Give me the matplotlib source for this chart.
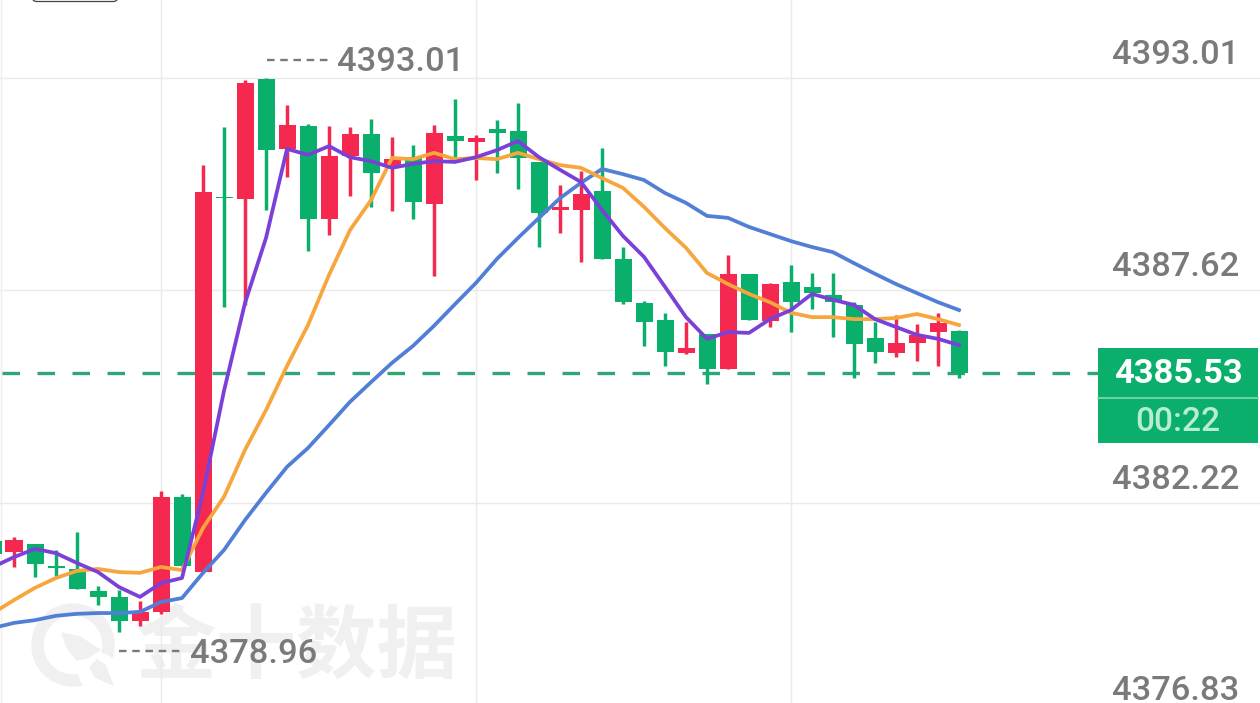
import matplotlib
matplotlib.use("Agg")
import matplotlib.pyplot as plt
from matplotlib.patches import Wedge, Polygon, Rectangle, FancyBboxPatch, Circle
from matplotlib.transforms import IdentityTransform

# index of each candle starts at -1 (partly off the left edge)
body_top = [4381.26,4381.28,4381.18,4380.62,4380.55,4379.99,4379.84,4379.46,4382.38,4382.38,4390.12,4389.99,4392.88,4392.98,4391.82,4391.79,4391.03,4391.59,4391.59,4390.95,4391.00,4391.61,4391.54,4391.49,4391.72,4391.66,4390.88,4389.74,4390.07,4390.14,4388.42,4387.30,4386.87,4386.16,4386.51,4388.04,4388.04,4387.78,4387.83,4387.71,4387.50,4387.25,4386.41,4386.28,4386.49,4386.79,4386.59]
body_bot = [4380.93,4380.98,4380.68,4380.57,4380.04,4379.84,4379.23,4379.23,4379.46,4380.62,4380.47,4389.96,4389.94,4391.18,4391.21,4389.43,4389.43,4391.03,4390.60,4390.78,4389.86,4389.81,4391.41,4391.39,4391.61,4390.98,4389.58,4389.66,4389.66,4388.42,4387.32,4386.82,4386.06,4386.03,4385.62,4385.62,4386.87,4386.84,4387.32,4387.55,4387.32,4386.26,4386.06,4386.03,4386.28,4386.56,4385.53]
highs = [4381.26,4381.36,4381.18,4381.03,4381.49,4380.12,4380.02,4379.74,4382.53,4382.45,4390.80,4391.77,4392.96,4393.01,4392.32,4391.84,4391.79,4391.77,4391.97,4391.51,4391.31,4391.82,4392.48,4391.56,4391.94,4392.38,4390.88,4390.29,4390.65,4391.23,4388.72,4387.35,4387.05,4386.82,4386.51,4388.52,4388.04,4387.81,4388.26,4388.06,4388.06,4387.32,4386.82,4386.99,4386.77,4387.05,4386.61]
lows = [4380.93,4380.60,4380.35,4380.37,4380.04,4379.63,4378.96,4379.10,4379.41,4380.62,4380.47,4387.20,4387.25,4389.66,4390.50,4388.62,4389.03,4390.02,4389.74,4389.63,4389.43,4387.98,4391.00,4390.42,4390.60,4390.19,4388.72,4389.08,4388.34,4388.42,4387.27,4386.21,4385.70,4386.01,4385.24,4385.62,4386.87,4386.69,4386.56,4387.15,4386.44,4385.40,4385.78,4385.93,4385.83,4385.70,4385.40]
is_up = [0,1,0,0,0,0,0,1,1,0,1,0,1,0,1,0,1,1,0,1,0,1,0,1,0,0,0,1,1,0,0,0,0,1,0,1,0,1,0,0,0,0,0,1,1,1,0]

ma_purple = [4380.60,4380.85,4381.06,4380.95,4380.70,4380.47,4380.09,4379.84,4380.19,4380.32,4382.48,4385.07,4387.30,4388.95,4391.21,4391.06,4391.28,4391.00,4390.90,4390.73,4390.83,4390.90,4390.88,4391.00,4391.18,4391.41,4391.00,4390.68,4390.37,4389.66,4389.00,4388.47,4387.71,4386.94,4386.39,4386.56,4386.54,4386.89,4387.12,4387.53,4387.38,4387.25,4386.89,4386.69,4386.49,4386.39,4386.23]
ma_orange = [4379.43,4379.76,4380.07,4380.32,4380.50,4380.55,4380.47,4380.45,4380.60,4380.52,4381.59,4382.38,4383.57,4384.58,4385.70,4386.74,4388.01,4389.15,4389.91,4390.98,4390.95,4391.11,4390.95,4390.98,4390.95,4391.11,4390.95,4390.80,4390.73,4390.47,4390.22,4389.74,4389.20,4388.70,4388.06,4387.78,4387.53,4387.32,4387.05,4386.94,4386.94,4386.89,4386.89,4386.92,4387.02,4386.89,4386.74]
ma_blue = [4379.05,4379.18,4379.25,4379.36,4379.41,4379.43,4379.43,4379.46,4379.71,4379.81,4380.45,4381.03,4381.79,4382.48,4383.14,4383.62,4384.20,4384.79,4385.29,4385.78,4386.21,4386.72,4387.27,4387.81,4388.42,4388.95,4389.46,4389.96,4390.35,4390.70,4390.57,4390.42,4390.09,4389.84,4389.51,4389.46,4389.23,4389.05,4388.87,4388.72,4388.59,4388.31,4388.04,4387.78,4387.55,4387.32,4387.12]

price_ticks = [4393.01, 4387.62, 4382.22, 4376.83]
tick_labels = ["4393.01", "4387.62", "4382.22", "4376.83"]
time_grid = [7, 22, 37]
last_price = 4385.53
last_label = "4385.53"
countdown = "00:22"
high_label = "4393.01"
low_label = "4378.96"
watermark = "金十数据"

GREEN = "#0AAF6C"
RED = "#F5294F"
WM = "#F0F0F0"
W, H = 1260, 703
NUM = ["Roboto", "DejaVu Sans"]
GREY = "#7A7A7A"
FS = 24.8

fig = plt.figure(figsize=(W / 100, H / 100), dpi=100, facecolor="white")
ax = fig.add_axes([0, 0, 1, 1])
ax.set_xlim(-14 / 21, (W - 14) / 21)
ax.set_ylim(4393.01 - (H - 78) / 39.4, 4393.01 + 78 / 39.4)
ax.axis("off")

def px(x, y):
    return x / W, 1 - y / H

# watermark
fig.text(*px(296, 648), watermark, ha="center", va="center", fontsize=58, fontweight="bold",
         family=["Noto Sans CJK SC", "DejaVu Sans"], color=WM, zorder=-1)
wm = IdentityTransform()
fig.patches.append(Wedge((73, H - 645), 41, 0, 360, width=11, color=WM, transform=wm, zorder=-2))
fig.patches.append(Circle((98, H - 672), 19, color="white", transform=wm, zorder=-2))
fig.patches.append(Polygon([(62, H - 633), (80, H - 637), (100, H - 650), (87, H - 658), (77, H - 660), (67, H - 648)],
                           closed=True, color=WM, transform=wm, zorder=-2))
fig.patches.append(Polygon([(90, H - 667), (97, H - 660), (105, H - 665), (113, H - 685), (95, H - 677)],
                           closed=True, color=WM, transform=wm, zorder=-2))

# cropped rounded box at the top edge
fig.patches.append(FancyBboxPatch((32, H - 1.5), 86, 20, boxstyle="round,pad=0,rounding_size=5", fc="white",
                                  ec="#444444", lw=0.9, transform=wm, zorder=-1))

# grid
for p in price_ticks:
    ax.axhline(p, color="#EAEAEA", lw=1.0, zorder=1)
for t in time_grid:
    ax.axvline(t, color="#EAEAEA", lw=1.0, zorder=1)
ax.axvline(-0.61, color="#EDEDED", lw=1.0, zorder=1)

# candles
idx = list(range(-1, len(highs) - 1))
colors = [RED if u else GREEN for u in is_up]
ax.vlines(idx, lows, highs, colors=colors, lw=2.5, zorder=3)
ax.bar(idx, [a - b for a, b in zip(body_top, body_bot)], bottom=body_bot, width=17 / 21,
       color=colors, lw=0, zorder=3)

# last price line
ax.plot([2 / W, 1098 / W], [(last_price - ax.get_ylim()[0]) / (ax.get_ylim()[1] - ax.get_ylim()[0])] * 2,
        transform=ax.transAxes, color="#2FA578", lw=2.4, dashes=(5.25, 5.25), dash_capstyle="butt", zorder=2)

# moving averages
ax.plot(idx, ma_blue, color="#517FD6", lw=2.7, zorder=4, solid_joinstyle="round")
ax.plot(idx, ma_orange, color="#F6A63C", lw=2.7, zorder=5, solid_joinstyle="round")
ax.plot(idx, ma_purple, color="#7A40D8", lw=2.7, zorder=6, solid_joinstyle="round")

# axis labels: sit above their grid lines
for lab, yy in zip(tick_labels, [55, 267, 480, 691]):
    fig.text(*px(1239, yy), lab, ha="right", va="center", fontsize=FS, fontweight="medium", family=NUM, color=GREY, zorder=8)

# hi / lo marks
ax.plot([267 / W, 330 / W], [1 - 60 / H] * 2, transform=ax.transAxes, color=GREY, lw=1.7, dashes=(3.2, 2.4), zorder=7)
ax.plot([119 / W, 185 / W], [1 - 651 / H] * 2, transform=ax.transAxes, color=GREY, lw=1.7, dashes=(3.2, 2.4), zorder=7)
fig.text(*px(337, 62), high_label, ha="left", va="center", fontsize=FS, fontweight="medium", family=NUM, color=GREY, zorder=8)
fig.text(*px(190, 654), low_label, ha="left", va="center", fontsize=FS, fontweight="medium", family=NUM, color=GREY, zorder=8)

# price tag
ax.add_patch(Rectangle((1098 / W, 1 - 443 / H), 160 / W, 95 / H, transform=ax.transAxes, color=GREEN, lw=0, zorder=7))
ax.plot([1098 / W, 1258 / W], [1 - 398 / H] * 2, transform=ax.transAxes, color="#7FD8B4", lw=1.2, zorder=8)
fig.text(*px(1178, 374), last_label, ha="center", va="center", fontsize=FS, fontweight="bold", family=NUM, color="white", zorder=9)
fig.text(*px(1178, 422), countdown, ha="center", va="center", fontsize=24, fontweight="medium", family=NUM, color="#B9EDD3", zorder=9)

fig.savefig("out.png", dpi=100)
